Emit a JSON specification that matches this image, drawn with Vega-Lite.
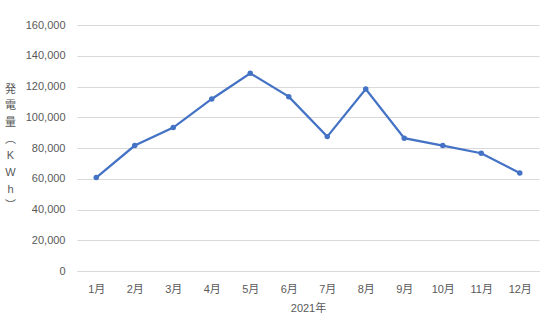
{
  "$schema": "https://vega.github.io/schema/vega-lite/v6.json",
  "autosize": "none",
  "width": 462,
  "height": 246,
  "padding": {"left": 77, "top": 25, "right": 5, "bottom": 49},
  "background": "white",
  "config": {
    "view": {"stroke": null},
    "font": "Liberation Sans, Noto Sans CJK JP",
    "axis": {
      "labelColor": "#595959",
      "titleColor": "#595959",
      "labelFontSize": 11,
      "titleFontSize": 11,
      "titleFontWeight": "normal",
      "labelFont": "Liberation Sans, Noto Sans CJK JP",
      "titleFont": "Liberation Sans, Noto Sans CJK JP"
    }
  },
  "data": {
    "values": [
      {"month": "1月", "kwh": 60800},
      {"month": "2月", "kwh": 81600},
      {"month": "3月", "kwh": 93300},
      {"month": "4月", "kwh": 111900},
      {"month": "5月", "kwh": 128600},
      {"month": "6月", "kwh": 113400},
      {"month": "7月", "kwh": 87400},
      {"month": "8月", "kwh": 118400},
      {"month": "9月", "kwh": 86400},
      {"month": "10月", "kwh": 81600},
      {"month": "11月", "kwh": 76600},
      {"month": "12月", "kwh": 63800}
    ]
  },
  "mark": {"type": "line", "color": "#4472C4", "strokeWidth": 2.25, "point": {"filled": true, "color": "#4472C4", "size": 30}},
  "encoding": {
    "x": {
      "field": "month",
      "type": "ordinal",
      "sort": null,
      "scale": {"type": "point", "padding": 0.5},
      "axis": {
        "title": "2021年",
        "labelAngle": 0,
        "ticks": false,
        "domain": true,
        "domainColor": "#D9D9D9",
        "labelPadding": 12,
        "titlePadding": 8,
        "grid": false
      }
    },
    "y": {
      "field": "kwh",
      "type": "quantitative",
      "scale": {"domain": [0, 160000], "nice": false},
      "axis": {
        "values": [0, 20000, 40000, 60000, 80000, 100000, 120000, 140000, 160000],
        "format": ",d",
        "ticks": false,
        "domain": false,
        "gridColor": "#D9D9D9",
        "gridWidth": 1,
        "labelPadding": 12,
        "title": ["発", "電", "量", "︵", "K", "W", "h", "︶"],
        "titleAngle": 0,
        "titleAlign": "center",
        "titleBaseline": "top",
        "titleX": -67,
        "titleY": 58,
        "titleLineHeight": 16.7
      }
    }
  }
}
